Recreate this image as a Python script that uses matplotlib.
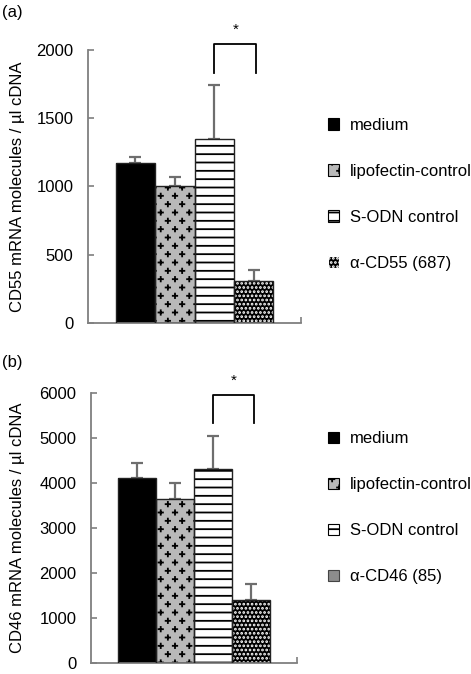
import warnings
import matplotlib
matplotlib.use("Agg")
import matplotlib.pyplot as plt
from matplotlib import hatch as mhatch
from matplotlib.path import Path
from matplotlib.patches import Patch
import numpy as np

warnings.filterwarnings("ignore")

# ---- data -------------------------------------------------------------
labels_a = ["medium", "lipofectin-control", "S-ODN control", "α-CD55 (687)"]
labels_b = ["medium", "lipofectin-control", "S-ODN control", "α-CD46 (85)"]
cd55_values = [1170, 1005, 1350, 310]
cd55_err = [45, 65, 395, 80]
cd46_values = [4110, 3640, 4310, 1400]
cd46_err = [335, 360, 735, 355]
cd55_ticks = [0, 500, 1000, 1500, 2000]
cd46_ticks = [0, 1000, 2000, 3000, 4000, 5000, 6000]
sig_pair = (2, 3)
cd55_bracket = (1830, 2045)   # leg bottom, bracket top
cd46_bracket = (5330, 5960)


# staggered "+" hatch used for the lipofectin bars ('p' in the hatch string)
class PlusHatch(mhatch.HatchPatternBase):
    def __init__(self, hatch, density):
        self.rows = 12 if "p" in hatch else 0
        self.cols = 7
        self.arm = 0.022
        self.num_vertices = self.rows * self.cols * 4

    def set_vertices_and_codes(self, vertices, codes):
        k = 0
        for j in range(self.rows):
            y = (j + 0.5) / self.rows
            off = 0.25 if j % 2 == 0 else 0.75
            for i in range(self.cols):
                x = (i + off) / self.cols
                vertices[k:k + 4] = [(x - self.arm, y), (x + self.arm, y),
                                     (x, y - self.arm), (x, y + self.arm)]
                codes[k:k + 4] = [Path.MOVETO, Path.LINETO,
                                  Path.MOVETO, Path.LINETO]
                k += 4


mhatch._hatch_types.append(PlusHatch)

plt.rcParams["font.family"] = ["Liberation Sans", "DejaVu Sans"]
plt.rcParams["font.size"] = 12
plt.rcParams["hatch.linewidth"] = 1.3

# bar styles: face, hatch, hatch colour
styles = [
    dict(face="black", hatch=None, hcol="black"),
    dict(face="#b9b9b9", hatch="p", hcol="black"),
    dict(face="white", hatch="--", hcol="black"),
    dict(face="black", hatch="....", hcol="white"),
]

fig = plt.figure(figsize=(4.71, 6.74), dpi=100)
ax_a = fig.add_axes([0.187, 0.5208, 0.452, 0.405])
ax_b = fig.add_axes([0.193, 0.0163, 0.437, 0.4006])

spine_col = "#7f7f7f"


def draw_panel(ax, values, err, ticks, ylabel, bracket, legend_labels,
               legend_top, last_legend_face, label_x):
    x = np.arange(len(values))
    for i, st in enumerate(styles):
        ax.bar(x[i], values[i], width=1.0, color=st["face"],
               edgecolor=st["hcol"], hatch=st["hatch"], linewidth=0,
               zorder=2)
        ax.bar(x[i], values[i], width=1.0, color="none",
               edgecolor="#222222", linewidth=1.0, zorder=3)
    ax.errorbar(x, values, yerr=[np.zeros(len(err)), err], fmt="none",
                ecolor="#6e6e6e", elinewidth=1.6, capsize=4.5,
                capthick=1.6, zorder=1)

    ax.set_xlim(-1.2, 4.2)
    ax.set_ylim(ticks[0], ticks[-1])
    ax.set_yticks(ticks)
    ax.set_xticks([4.2])
    ax.set_xticklabels([])
    ax.tick_params(axis="y", direction="in", length=4, width=1.2,
                   color=spine_col, pad=10.5, labelsize=12)
    ax.tick_params(axis="x", direction="in", length=4, width=1.2,
                   color=spine_col)
    for s in ("top", "right"):
        ax.spines[s].set_visible(False)
    for s in ("left", "bottom"):
        ax.spines[s].set_color(spine_col)
        ax.spines[s].set_linewidth(1.3)
    ax.set_ylabel(ylabel, fontsize=12)
    ax.yaxis.set_label_coords(label_x, 0.5)

    # significance bracket
    a, b = sig_pair
    lo, hi = bracket
    ax.plot([a, a, b + 0.07, b + 0.07], [lo, hi, hi, lo], color="black",
            lw=1.3, clip_on=False, zorder=4)
    ax.text((a + b + 0.07) / 2, hi + (ticks[-1] - ticks[0]) * 0.025, "*",
            ha="center", va="bottom", fontsize=11, clip_on=False)

    handles = []
    for i, st in enumerate(styles):
        face, hatch, hcol = st["face"], st["hatch"], st["hcol"]
        if i == 3 and last_legend_face is not None:
            face, hatch, hcol = last_legend_face, None, "#444444"
        handles.append(Patch(facecolor=face, edgecolor=hcol, hatch=hatch,
                             linewidth=0.8))
    fig.legend(handles, legend_labels, loc="upper left",
               bbox_to_anchor=(0.696, legend_top), frameon=False,
               fontsize=12, handlelength=0.66, handleheight=0.66,
               handletextpad=0.66, labelspacing=1.86, borderpad=0,
               borderaxespad=0)


draw_panel(ax_a, cd55_values, cd55_err, cd55_ticks,
           "CD55 mRNA molecules / µl cDNA", cd55_bracket, labels_a,
           0.825, None, -0.296)
draw_panel(ax_b, cd46_values, cd46_err, cd46_ticks,
           "CD46 mRNA molecules / µl cDNA", cd46_bracket, labels_b,
           0.360, "#8c8c8c", -0.32)

fig.text(0.004, 1 - 13 / 674, "(a)", ha="left", va="center", fontsize=12)
fig.text(0.004, 1 - 363 / 674, "(b)", ha="left", va="center", fontsize=12)

fig.savefig("out.png", dpi=100)
